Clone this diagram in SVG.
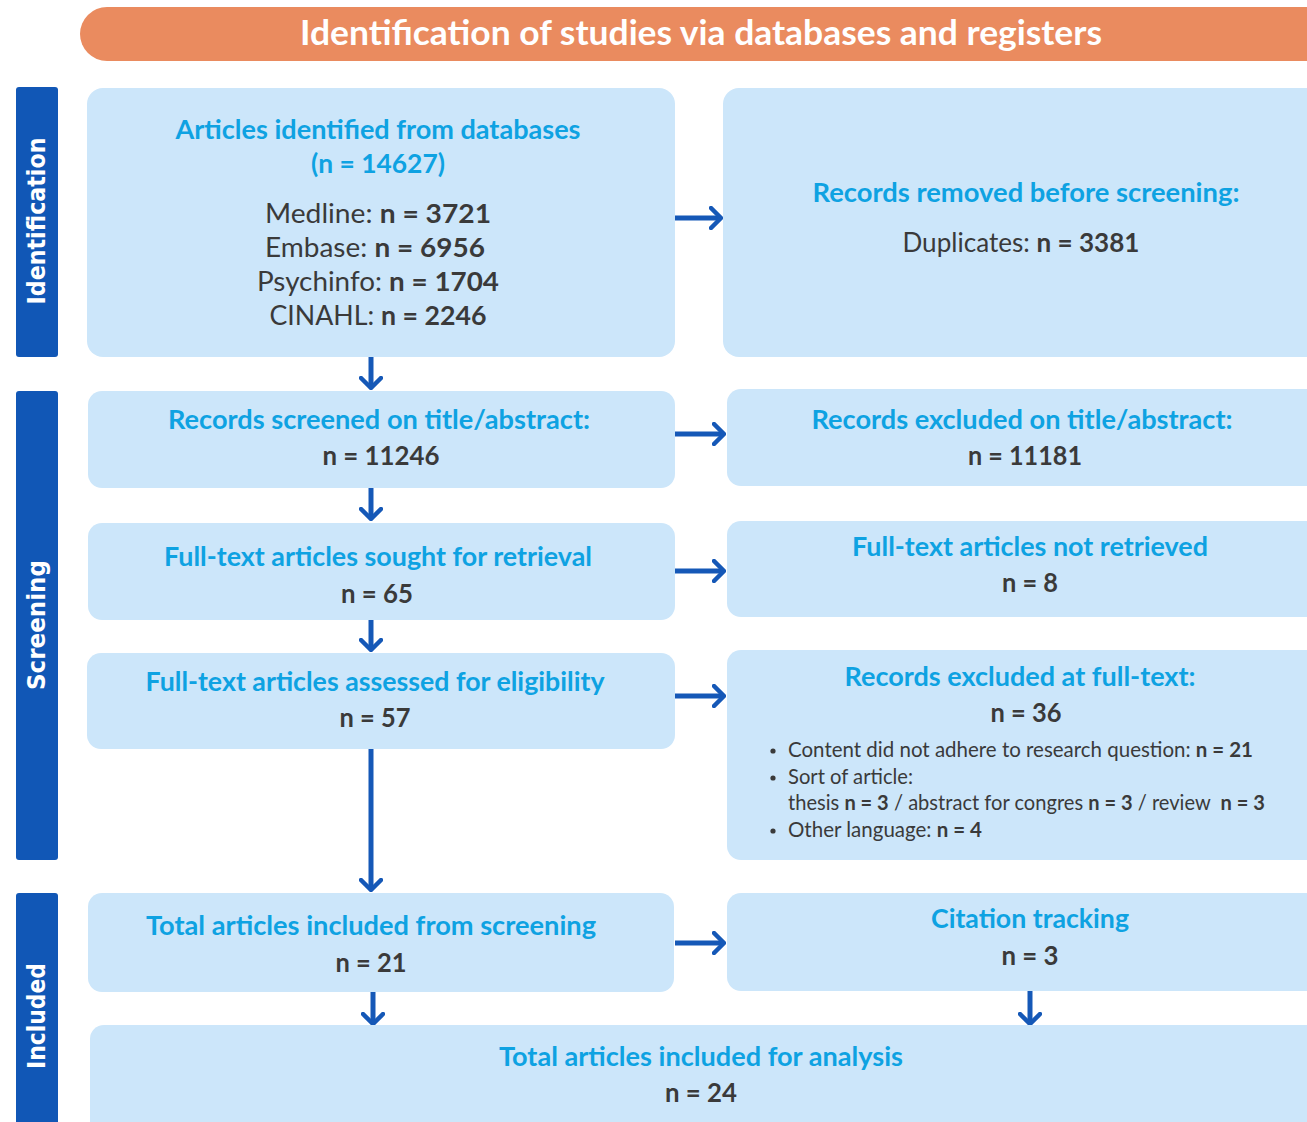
<svg xmlns="http://www.w3.org/2000/svg" width="1307" height="1122" viewBox="0 0 1307 1122">
<style>
.box{fill:#CCE6FA}
.bar{fill:#1157B6}
.t{font-family:Lato,"Liberation Sans",sans-serif;font-size:27px;text-anchor:middle}
.h{fill:#0EA2E2;font-weight:bold}
.d{fill:#3A3A3A}
.b{font-weight:bold}
.s{font-family:Lato,"Liberation Sans",sans-serif;font-size:20.5px;fill:#3A3A3A}
.side{font-family:"DejaVu Sans",sans-serif;font-size:25px;font-weight:bold;fill:#fff;text-anchor:middle}
.c{stroke:#1558B7;stroke-width:5;fill:none}
</style>
<defs>
<marker id="arr" viewBox="0 0 14 24" refX="12" refY="12" markerWidth="14" markerHeight="24" markerUnits="userSpaceOnUse" orient="auto">
<path d="M2,2 L12,12 L2,22" fill="none" stroke="#1558B7" stroke-width="4.5" stroke-linecap="round" stroke-linejoin="round"/>
</marker>
</defs>

<g id="header">
<rect x="80" y="7" width="1260" height="54" rx="27" fill="#EA8B5F"/>
<text x="701" y="45" font-family="Lato,'Liberation Sans',sans-serif" font-size="34" font-weight="bold" fill="#fff" text-anchor="middle" textLength="802" lengthAdjust="spacingAndGlyphs">Identification of studies via databases and registers</text>
</g>

<g id="phase-identification">
<rect class="bar" x="16" y="87" width="42" height="270" rx="3"/>
<text class="side" transform="translate(45,221) rotate(-90)" textLength="167" lengthAdjust="spacingAndGlyphs">Identification</text>
</g>
<g id="phase-screening">
<rect class="bar" x="16" y="391" width="42" height="469" rx="3"/>
<text class="side" transform="translate(45,625) rotate(-90)" textLength="130" lengthAdjust="spacingAndGlyphs">Screening</text>
</g>
<g id="phase-included">
<rect class="bar" x="16" y="893" width="42" height="240" rx="3"/>
<text class="side" transform="translate(45,1016) rotate(-90)" textLength="106" lengthAdjust="spacingAndGlyphs">Included</text>
</g>

<g id="connectors">
<line class="c" x1="675" y1="218" x2="721" y2="218" marker-end="url(#arr)"/>
<line class="c" x1="675" y1="434" x2="724" y2="434" marker-end="url(#arr)"/>
<line class="c" x1="675" y1="571" x2="724" y2="571" marker-end="url(#arr)"/>
<line class="c" x1="675" y1="696" x2="724" y2="696" marker-end="url(#arr)"/>
<line class="c" x1="675" y1="943" x2="724" y2="943" marker-end="url(#arr)"/>
<line class="c" x1="371" y1="357" x2="371" y2="388" marker-end="url(#arr)"/>
<line class="c" x1="371" y1="488" x2="371" y2="519" marker-end="url(#arr)"/>
<line class="c" x1="371" y1="620" x2="371" y2="650" marker-end="url(#arr)"/>
<line class="c" x1="371" y1="749" x2="371" y2="890" marker-end="url(#arr)"/>
<line class="c" x1="373" y1="992" x2="373" y2="1024" marker-end="url(#arr)"/>
<line class="c" x1="1030" y1="991" x2="1030" y2="1024" marker-end="url(#arr)"/>
</g>

<g id="articles-identified">
<rect class="box" x="87" y="88" width="588" height="269" rx="16"/>
<text class="t h" x="378" y="139" textLength="405" lengthAdjust="spacingAndGlyphs">Articles identified from databases</text>
<text class="t h" x="378" y="173" textLength="134" lengthAdjust="spacingAndGlyphs">(n = 14627)</text>
<text class="t d" x="378" y="223" textLength="226" lengthAdjust="spacingAndGlyphs">Medline: <tspan class="b">n = 3721</tspan></text>
<text class="t d" x="375" y="257" textLength="220" lengthAdjust="spacingAndGlyphs">Embase: <tspan class="b">n = 6956</tspan></text>
<text class="t d" x="378" y="291" textLength="242" lengthAdjust="spacingAndGlyphs">Psychinfo: <tspan class="b">n = 1704</tspan></text>
<text class="t d" x="378" y="325" textLength="217" lengthAdjust="spacingAndGlyphs">CINAHL: <tspan class="b">n = 2246</tspan></text>
</g>

<g id="records-removed">
<rect class="box" x="723" y="88" width="600" height="269" rx="16"/>
<text class="t h" x="1026" y="202" textLength="427" lengthAdjust="spacingAndGlyphs">Records removed before screening:</text>
<text class="t d" x="1021" y="252" textLength="237" lengthAdjust="spacingAndGlyphs">Duplicates: <tspan class="b">n = 3381</tspan></text>
</g>

<g id="records-screened">
<rect class="box" x="88" y="391" width="587" height="97" rx="14"/>
<text class="t h" x="379" y="429" textLength="422" lengthAdjust="spacingAndGlyphs">Records screened on title/abstract:</text>
<text class="t d b" x="381" y="465" textLength="117" lengthAdjust="spacingAndGlyphs">n = 11246</text>
</g>

<g id="records-excluded">
<rect class="box" x="727" y="389" width="596" height="97" rx="14"/>
<text class="t h" x="1022" y="429" textLength="421" lengthAdjust="spacingAndGlyphs">Records excluded on title/abstract:</text>
<text class="t d b" x="1025" y="465" textLength="114" lengthAdjust="spacingAndGlyphs">n = 11181</text>
</g>

<g id="sought-retrieval">
<rect class="box" x="88" y="523" width="587" height="97" rx="14"/>
<text class="t h" x="378" y="566" textLength="428" lengthAdjust="spacingAndGlyphs">Full-text articles sought for retrieval</text>
<text class="t d b" x="377" y="603" textLength="72" lengthAdjust="spacingAndGlyphs">n = 65</text>
</g>

<g id="not-retrieved">
<rect class="box" x="727" y="521" width="596" height="96" rx="14"/>
<text class="t h" x="1030" y="556" textLength="356" lengthAdjust="spacingAndGlyphs">Full-text articles not retrieved</text>
<text class="t d b" x="1030" y="592" textLength="56" lengthAdjust="spacingAndGlyphs">n = 8</text>
</g>

<g id="assessed-eligibility">
<rect class="box" x="87" y="653" width="588" height="96" rx="14"/>
<text class="t h" x="375" y="691" textLength="459" lengthAdjust="spacingAndGlyphs">Full-text articles assessed for eligibility</text>
<text class="t d b" x="375" y="727" textLength="71" lengthAdjust="spacingAndGlyphs">n = 57</text>
</g>

<g id="excluded-fulltext">
<rect class="box" x="727" y="650" width="596" height="210" rx="14"/>
<text class="t h" x="1020" y="686" textLength="351" lengthAdjust="spacingAndGlyphs">Records excluded at full-text:</text>
<text class="t d b" x="1026" y="722" textLength="71" lengthAdjust="spacingAndGlyphs">n = 36</text>
<circle cx="773" cy="751" r="2.6" fill="#3A3A3A"/>
<circle cx="773" cy="778" r="2.6" fill="#3A3A3A"/>
<circle cx="773" cy="831" r="2.6" fill="#3A3A3A"/>
<text class="s" x="788" y="757" textLength="465" lengthAdjust="spacingAndGlyphs">Content did not adhere to research question: <tspan class="b">n = 21</tspan></text>
<text class="s" x="788" y="784" textLength="125" lengthAdjust="spacingAndGlyphs">Sort of article:</text>
<text class="s" x="788" y="810" textLength="477" lengthAdjust="spacingAndGlyphs">thesis <tspan class="b">n = 3</tspan> / abstract for congres <tspan class="b">n = 3</tspan> / review&#160; <tspan class="b">n = 3</tspan></text>
<text class="s" x="788" y="837" textLength="194" lengthAdjust="spacingAndGlyphs">Other language: <tspan class="b">n = 4</tspan></text>
</g>

<g id="included-screening">
<rect class="box" x="88" y="893" width="586" height="99" rx="14"/>
<text class="t h" x="371" y="935" textLength="450" lengthAdjust="spacingAndGlyphs">Total articles included from screening</text>
<text class="t d b" x="371" y="972" textLength="71" lengthAdjust="spacingAndGlyphs">n = 21</text>
</g>

<g id="citation-tracking">
<rect class="box" x="727" y="893" width="596" height="98" rx="14"/>
<text class="t h" x="1030" y="928" textLength="198" lengthAdjust="spacingAndGlyphs">Citation tracking</text>
<text class="t d b" x="1030" y="965" textLength="57" lengthAdjust="spacingAndGlyphs">n = 3</text>
</g>

<g id="included-analysis">
<rect class="box" x="90" y="1025" width="1233" height="120" rx="14"/>
<text class="t h" x="701" y="1066" textLength="404" lengthAdjust="spacingAndGlyphs">Total articles included for analysis</text>
<text class="t d b" x="701" y="1102" textLength="72" lengthAdjust="spacingAndGlyphs">n = 24</text>
</g>
</svg>
